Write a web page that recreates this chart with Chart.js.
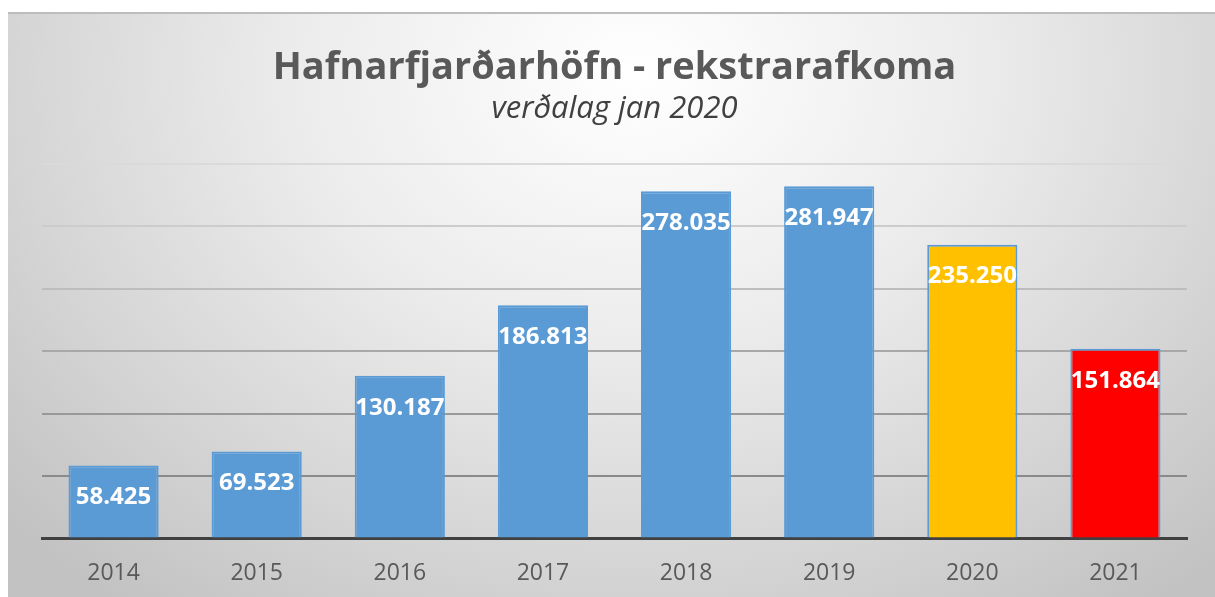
<!DOCTYPE html>
<html>
<head>
<meta charset="utf-8">
<script src="https://cdn.jsdelivr.net/npm/chart.js@4.4.1/dist/chart.umd.min.js"></script>
<style>
  html, body { margin: 0; padding: 0; background: #fff; }
  #box {
    position: absolute; left: 8px; top: 12px; width: 1207px; height: 585px;
    box-sizing: border-box; border-top: 2px solid #bdbdbd; overflow: hidden;
    background: radial-gradient(ellipse 70% 115% at 52% 10%, #ffffff 0%, #ececec 40%, #d4d4d4 75%, #c2c2c2 100%);
  }
  #box canvas { display: block; }
</style>
</head>
<body>
<div id="box"><canvas id="chart" width="1207" height="594"></canvas></div>
<script>
// gögn
const years = ['2014', '2015', '2016', '2017', '2018', '2019', '2020', '2021'];
const afkoma = [58425, 69523, 130187, 186813, 278035, 281947, 235250, 151864];
const barColors = ['#5b9bd5', '#5b9bd5', '#5b9bd5', '#5b9bd5', '#5b9bd5', '#5b9bd5', '#ffc000', '#ff0000'];
const yTicks = [0, 50000, 100000, 150000, 200000, 250000, 300000];

const fmt = n => String(n).replace(/\B(?=(\d{3})+(?!\d))/g, '.');

// merki inni í súlunum
const barLabels = {
  id: 'barLabels',
  afterDatasetsDraw(chart) {
    const ctx = chart.ctx;
    const meta = chart.getDatasetMeta(0);
    ctx.save();
    ctx.font = 'bold 24px "Open Sans"';
    ctx.fillStyle = '#ffffff';
    ctx.textAlign = 'center';
    ctx.textBaseline = 'middle';
    meta.data.forEach((bar, i) => {
      ctx.fillText(fmt(afkoma[i]), bar.x, bar.y + 32);
    });
    ctx.restore();
  }
};

const gridCols = { 50000: '#8a8a8a', 100000: '#999999', 150000: '#a8a8a8', 200000: '#bdbdbd', 250000: '#cccccc', 300000: '#dadada' };

const ctx = document.getElementById('chart').getContext('2d');
new Chart(ctx, {
  type: 'bar',
  data: {
    labels: years,
    datasets: [{
      data: afkoma,
      backgroundColor: barColors,
      borderColor: '#5b9bd5',
      borderWidth: 2,
      categoryPercentage: 1,
      barPercentage: 0.63
    }]
  },
  options: {
    responsive: false,
    animation: false,
    layout: { padding: { left: 34, right: 28, top: 0, bottom: 0 } },
    plugins: {
      legend: { display: false },
      tooltip: { enabled: false },
      title: {
        display: true,
        text: 'Hafnarfjarðarhöfn - rekstrarafkoma',
        color: '#595959',
        font: { family: 'Open Sans', size: 38, weight: 'bold' },
        padding: { top: 31, bottom: 0 }
      },
      subtitle: {
        display: true,
        text: 'verðalag jan 2020',
        color: '#404040',
        font: { family: 'Open Sans', size: 31, style: 'italic' },
        padding: { top: 0, bottom: 36 }
      }
    },
    scales: {
      x: {
        grid: { display: false, drawTicks: false },
        border: { display: true, color: '#404040', width: 3 },
        ticks: { color: '#595959', padding: 21, font: { family: 'Open Sans', size: 23 } }
      },
      y: {
        min: 0,
        max: 300000,
        afterBuildTicks: axis => { axis.ticks = yTicks.map(v => ({ value: v })); },
        ticks: { display: false },
        border: { display: false },
        grid: {
          drawTicks: false,
          lineWidth: 2,
          color: c => gridCols[c.tick.value] || 'rgba(0,0,0,0)'
        }
      }
    }
  },
  plugins: [barLabels]
});
</script>
</body>
</html>
